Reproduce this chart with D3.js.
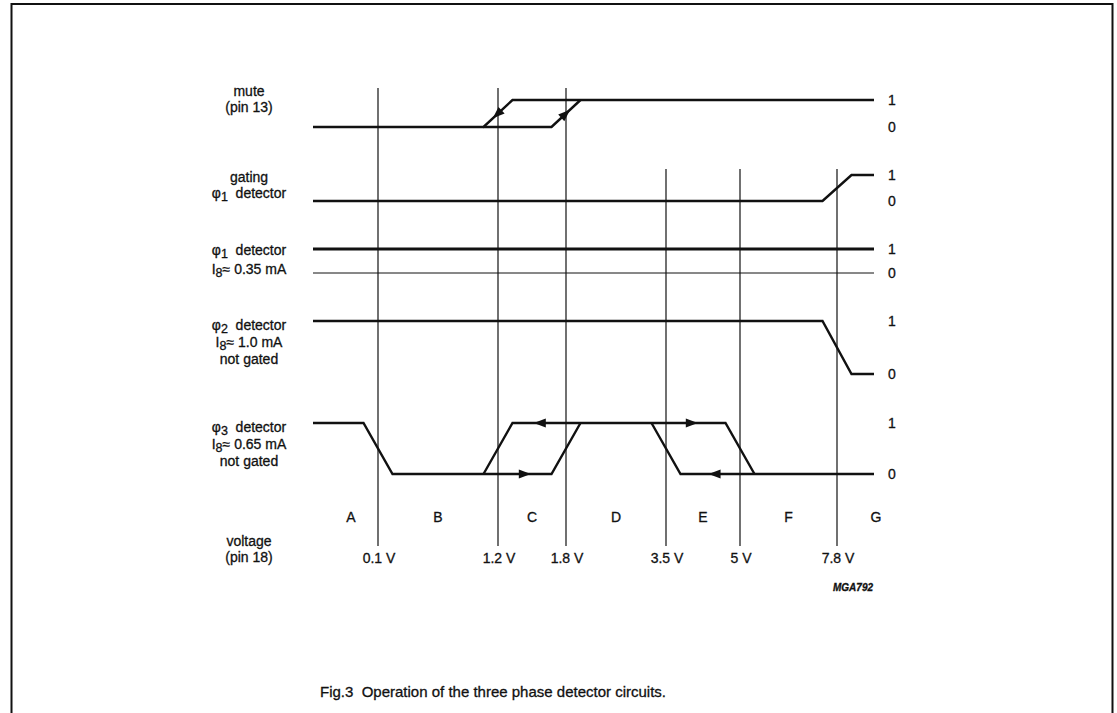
<!DOCTYPE html>
<html>
<head>
<meta charset="utf-8">
<script src="https://cdn.jsdelivr.net/npm/d3@7/dist/d3.min.js"></script>
<style>
  html, body { margin: 0; padding: 0; background: #fff; }
  svg { display: block; }
  text { font-family: "Liberation Sans", Arial, Helvetica, sans-serif; fill: #111; stroke: #111; stroke-width: 0.3px; }
</style>
</head>
<body>
<svg id="chart" width="1117" height="713"></svg>
<script>
// ---------------- DATA ----------------
const thresholds = [0.1, 1.2, 1.8, 3.5, 5, 7.8];
const thresholdLabels = ["0.1 V", "1.2 V", "1.8 V", "3.5 V", "5 V", "7.8 V"];
const thresholdStartRow = ["mute", "mute", "mute", "gating", "gating", "gating"];
const regionLabels = ["A", "B", "C", "D", "E", "F", "G"];
const levelLabels = ["1", "0"];
const vStart = -0.5, vEnd = 8.6;

const rowIds = ["mute", "gating", "phi1", "phi2", "phi3"];
// label lines: [text, subscript, rest]
const rowLabels = [
  [["mute", "", ""], ["(pin 13)", "", ""]],
  [["gating", "", ""], ["\u03C6", "1", "\u00A0\u00A0detector"]],
  [["\u03C6", "1", "\u00A0\u00A0detector"], ["I", "8", "\u2248 0.35 mA"]],
  [["\u03C6", "2", "\u00A0\u00A0detector"], ["I", "8", "\u2248 1.0 mA"], ["not gated", "", ""]],
  [["\u03C6", "3", "\u00A0\u00A0detector"], ["I", "8", "\u2248 0.65 mA"], ["not gated", "", ""]]
];

// trace points: [threshold voltage, ramp side (-1 before / +1 after / 0 none), logic level]
const traceMute = [
  [[vStart, 0, 0], [1.2, -1, 0], [1.2, 1, 1], [vEnd, 0, 1]],
  [[1.2, -1, 0], [1.8, -1, 0], [1.8, 1, 1]]
];
const traceGating = [
  [[vStart, 0, 0], [7.8, -1, 0], [7.8, 1, 1], [vEnd, 0, 1]]
];
const tracePhi1 = [
  [[vStart, 0, 1], [vEnd, 0, 1]]
];
const tracePhi2 = [
  [[vStart, 0, 1], [7.8, -1, 1], [7.8, 1, 0], [vEnd, 0, 0]]
];
const tracePhi3 = [
  [[vStart, 0, 1], [0.1, -1, 1], [0.1, 1, 0], [1.8, -1, 0], [1.8, 1, 1]],
  [[1.2, -1, 0], [1.2, 1, 1], [5, -1, 1], [5, 1, 0]],
  [[3.5, -1, 1], [3.5, 1, 0], [vEnd, 0, 0]]
];
// arrows: row, from-point, to-point, fraction where the tip sits
const arrows = [
  { row: "mute", from: [1.2, 1, 1], to: [1.2, -1, 0], t: 0.68 },
  { row: "mute", from: [1.8, -1, 0], to: [1.8, 1, 1], t: 0.64 },
  { row: "phi3", from: [0.1, 1, 0], to: [1.8, -1, 0], t: 0.87 },
  { row: "phi3", from: [5, -1, 1], to: [1.2, 1, 1], t: 0.90 },
  { row: "phi3", from: [1.2, 1, 1], to: [5, -1, 1], t: 0.87 },
  { row: "phi3", from: [vEnd, 0, 0], to: [3.5, 1, 0], t: 0.855 }
];
const traces = { mute: traceMute, gating: traceGating, phi1: tracePhi1, phi2: tracePhi2, phi3: tracePhi3 };

const captionText = "Fig.3\u00A0\u00A0Operation of the three phase detector circuits.";
const codeText = "MGA792";

// ---------------- LAYOUT ----------------
const svg = d3.select("#chart");
const rampHalf = 14.5;
const x = d3.scaleLinear()
  .domain([vStart, ...thresholds, vEnd])
  .range([313, 378, 498, 566, 666, 740, 837, 874]);

const rowLayout = {
  mute:   { y1: 100, y0: 127, labelY: 96 },
  gating: { y1: 175, y0: 201, labelY: 182 },
  phi1:   { y1: 249, y0: 273, labelY: 255 },
  phi2:   { y1: 321, y0: 374, labelY: 330 },
  phi3:   { y1: 423, y0: 474, labelY: 432 }
};
const yScales = {};
rowIds.forEach(id => {
  yScales[id] = d3.scaleLinear().domain([0, 1]).range([rowLayout[id].y0, rowLayout[id].y1]);
});
const pt = (id, p) => [x(p[0]) + p[1] * rampHalf, yScales[id](p[2])];

// border
svg.append("path")
  .attr("d", "M11.5,713 V4 H1112.5 V713")
  .attr("fill", "none").attr("stroke", "#111").attr("stroke-width", 2);

// vertical threshold lines
const lineBottom = 546;
svg.append("g").selectAll("line").data(thresholds).join("line")
  .attr("x1", d => x(d)).attr("x2", d => x(d))
  .attr("y1", (d, i) => rowLayout[thresholdStartRow[i]].y1 - (thresholdStartRow[i] === "mute" ? 12 : 6))
  .attr("y2", lineBottom)
  .attr("stroke", "#111").attr("stroke-width", 1.2);

// phi1 zero reference line (thin)
svg.append("line")
  .attr("x1", x(vStart)).attr("x2", x(vEnd))
  .attr("y1", yScales.phi1(0)).attr("y2", yScales.phi1(0))
  .attr("stroke", "#111").attr("stroke-width", 1);

// traces
const lineGen = d3.line();
rowIds.forEach(id => {
  svg.append("g").selectAll("path").data(traces[id]).join("path")
    .attr("d", d => lineGen(d.map(p => pt(id, p))))
    .attr("fill", "none").attr("stroke", "#111")
    .attr("stroke-width", id === "phi1" ? 2.8 : 2.4)
    .attr("stroke-linejoin", "miter");
});

// arrows
const arrowLen = 12, arrowHalfW = 4.5;
svg.append("g").selectAll("path").data(arrows).join("path")
  .attr("d", a => {
    const [x0, y0] = pt(a.row, a.from), [x1, y1] = pt(a.row, a.to);
    const len = Math.hypot(x1 - x0, y1 - y0);
    const ux = (x1 - x0) / len, uy = (y1 - y0) / len;
    const tx = x0 + (x1 - x0) * a.t, ty = y0 + (y1 - y0) * a.t;
    const bx = tx - ux * arrowLen, by = ty - uy * arrowLen;
    const px = -uy * arrowHalfW, py = ux * arrowHalfW;
    return `M${tx},${ty} L${bx + px},${by + py} L${bx - px},${by - py} Z`;
  })
  .attr("fill", "#111");

// level labels 1 / 0
rowIds.forEach(id => {
  svg.append("g").selectAll("text").data(levelLabels).join("text")
    .attr("x", 892)
    .attr("y", d => yScales[id](+d) + 5)
    .attr("text-anchor", "middle")
    .attr("font-size", 14)
    .text(d => d);
});

// row labels
const lineStep = { mute: 16, gating: 16, phi1: 19, phi2: 17, phi3: 17 };
rowIds.forEach((id, ri) => {
  const g = svg.append("g");
  rowLabels[ri].forEach((ln, li) => {
    const t = g.append("text")
      .attr("x", 249)
      .attr("y", rowLayout[id].labelY + li * lineStep[id])
      .attr("text-anchor", "middle")
      .attr("font-size", 14);
    t.append("tspan").text(ln[0]);
    if (ln[1]) {
      t.append("tspan").attr("font-size", 12.5).attr("dy", 3).text(ln[1]);
      t.append("tspan").attr("dy", -3).text(ln[2]);
    }
  });
});

// region letters
const bounds = [x(thresholds[0]) - 54, ...thresholds.map(x), x(thresholds[5]) + 78];
svg.append("g").selectAll("text").data(regionLabels).join("text")
  .attr("x", (d, i) => (bounds[i] + bounds[i + 1]) / 2)
  .attr("y", 522)
  .attr("text-anchor", "middle")
  .attr("font-size", 14)
  .text(d => d);

// voltage axis labels
svg.append("text").attr("x", 249).attr("y", 546).attr("text-anchor", "middle").attr("font-size", 14).text("voltage");
svg.append("text").attr("x", 249).attr("y", 562).attr("text-anchor", "middle").attr("font-size", 14).text("(pin 18)");
svg.append("g").selectAll("text").data(thresholds).join("text")
  .attr("x", d => x(d) + 1)
  .attr("y", 563)
  .attr("text-anchor", "middle")
  .attr("font-size", 14)
  .text((d, i) => thresholdLabels[i]);

// code
svg.append("text").attr("x", 873).attr("y", 591).attr("text-anchor", "end")
  .attr("font-size", 10).attr("font-style", "italic").attr("font-weight", "bold").text(codeText);

// caption
svg.append("text").attr("x", 493).attr("y", 697).attr("text-anchor", "middle")
  .attr("font-size", 15).text(captionText);
</script>
</body>
</html>
